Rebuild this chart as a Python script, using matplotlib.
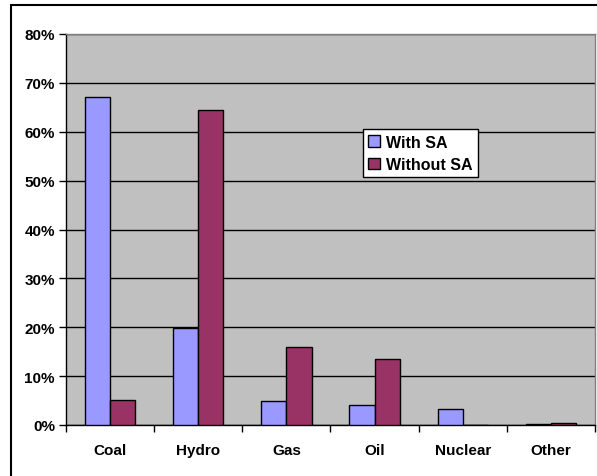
import numpy as np
import matplotlib
matplotlib.use("Agg")
import matplotlib.pyplot as plt
from matplotlib.patches import Rectangle
from matplotlib.ticker import FixedLocator

# data
categories = ["Coal", "Hydro", "Gas", "Oil", "Nuclear", "Other"]
with_sa = [67.1, 19.8, 4.9, 4.1, 3.3, 0.3]
without_sa = [5.2, 64.5, 16.0, 13.6, 0.0, 0.5]
yticks = [0, 10, 20, 30, 40, 50, 60, 70, 80]

plt.rcParams['font.family'] = ['Liberation Sans', 'DejaVu Sans']
plt.rcParams['font.weight'] = 'bold'

fig = plt.figure(figsize=(5.97, 4.77), dpi=100)
ax = fig.add_axes([66/597, 1-426/477, (595-66)/597, (426-35)/477])

# outer chart border (runs off the right and bottom edges)
fig.patches.append(Rectangle((11/597, -0.1), 1.2, 1-6/477+0.1, transform=fig.transFigure,
                             fill=False, edgecolor='black', linewidth=1.5))

x = np.arange(len(categories))
w = 0.2857
ax.set_facecolor('#C0C0C0')
ax.bar(x - w/2, with_sa, w, color='#9999FF', edgecolor='black', linewidth=1, label='With SA', zorder=3)
ax.bar(x + w/2, without_sa, w, color='#993366', edgecolor='black', linewidth=1, label='Without SA', zorder=3)

ax.set_xlim(-0.5, len(categories) - 0.5)
ax.set_ylim(0, 80)
ax.set_yticks(yticks)
ax.set_yticklabels(['%d%%' % v for v in yticks], fontsize=11, fontweight='bold')
ax.yaxis.grid(True, color='black', linewidth=1, zorder=1)
ax.set_axisbelow(True)

ax.set_xticks(x)
ax.set_xticklabels(categories, fontsize=11, fontweight='bold')
ax.tick_params(axis='x', which='major', length=0, pad=13)
ax.xaxis.set_minor_locator(FixedLocator(np.arange(-0.5, len(categories), 1.0)))
ax.tick_params(axis='x', which='minor', length=5, width=1, direction='out')
ax.tick_params(axis='y', length=5, width=1, direction='out', pad=3)

ax.spines['top'].set_color('#808080')
ax.spines['right'].set_color('#808080')
ax.spines['left'].set_color('black')
ax.spines['bottom'].set_color('black')
for s in ax.spines.values():
    s.set_linewidth(1)

leg = ax.legend(loc='upper left', bbox_to_anchor=(0.561, 0.757), borderaxespad=0,
                fancybox=False, framealpha=1, edgecolor='black',
                handlelength=0.7, handleheight=0.7, handletextpad=0.4,
                borderpad=0.35, labelspacing=0.45, prop={'weight': 'bold', 'size': 11.5})
leg.get_frame().set_linewidth(1)

fig.savefig('out.png', dpi=100)
